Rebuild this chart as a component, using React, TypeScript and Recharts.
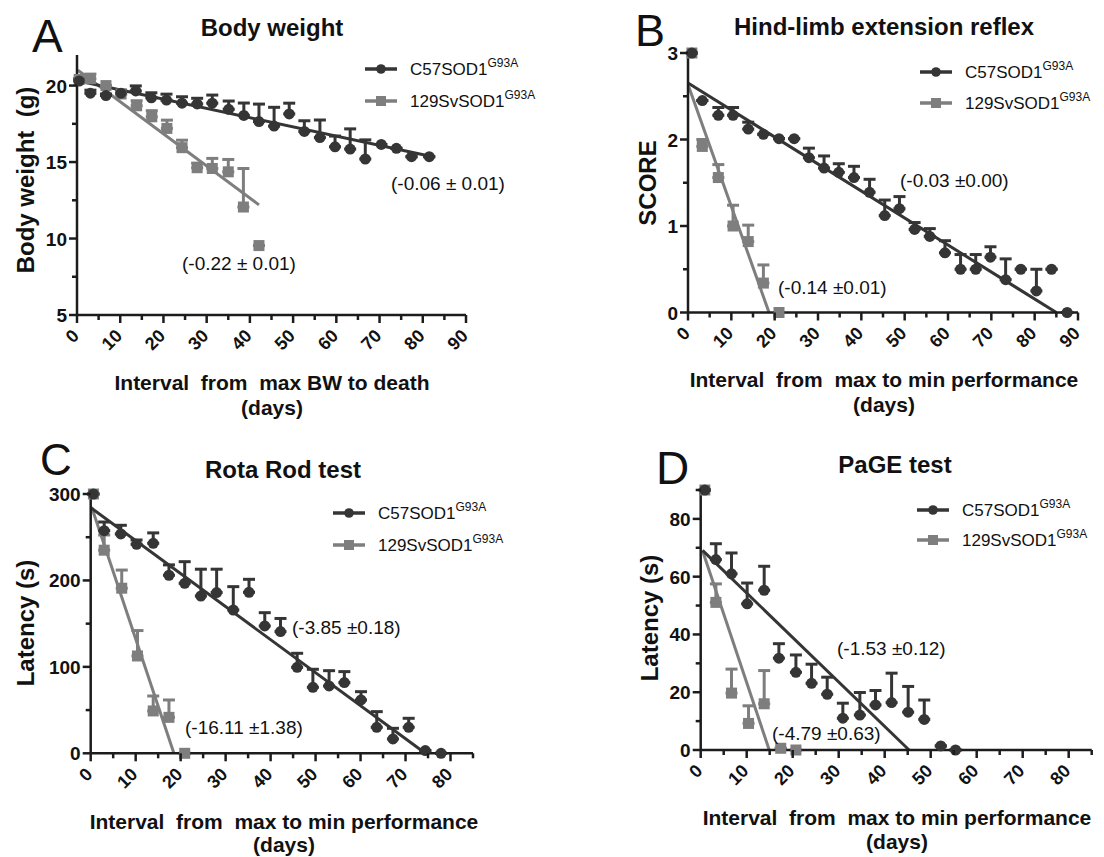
import React from 'react';
import { ComposedChart, Scatter, Line, XAxis, YAxis, ErrorBar } from 'recharts';

// ---------- Panel A : Body weight ----------
const bwDaysC57 = [0.5, 3.1, 6.7, 10.2, 13.6, 17.2, 20.7, 24.3, 27.8, 31.3, 35.1, 38.6, 42.1, 45.6, 49.1, 52.6, 56.2, 59.7, 63.2, 66.7, 70.4, 73.9, 77.4, 81.5];
const bwMeanC57 = [20.3, 19.5, 19.35, 19.5, 19.65, 19.2, 19.05, 18.85, 18.8, 18.85, 18.45, 18.05, 17.65, 17.35, 18.15, 17.0, 16.6, 16.0, 15.85, 15.2, 16.15, 15.9, 15.35, 15.35];
const bwErrC57 = [0.15, 0.2, 0.1, 0.2, 0.33, 0.33, 0.39, 0.42, 0.37, 0.53, 0.54, 0.81, 1.14, 1.23, 0.7, 0.7, 1.15, 0.7, 1.32, 1.25, 0, 0, 0, 0];
const bwDays129 = [0.5, 3.1, 6.7, 10.2, 13.8, 17.3, 20.8, 24.3, 27.8, 31.3, 35.0, 38.5, 42.1];
const bwMean129 = [20.4, 20.45, 20.0, 19.45, 18.68, 17.96, 17.2, 15.94, 14.63, 14.58, 14.36, 12.06, 9.54];
const bwErr129 = [0, 0.3, 0, 0, 0.33, 0.4, 0.54, 0.49, 0.3, 0.66, 0.81, 2.52, 0];
const bwFitXC57 = [0.4, 82.3];
const bwFitYC57 = [20.3, 15.35];
const bwFitX129 = [0.2, 42.1];
const bwFitY129 = [21.0, 12.2];
const bwXTicks = [0, 5, 10, 15, 20, 25, 30, 35, 40, 45, 50, 55, 60, 65, 70, 75, 80, 85, 90];
const bwYTicks = [5, 7.5, 10, 12.5, 15, 17.5, 20];
const bwYMajor = [5, 10, 15, 20];

// ---------- Panel B : Hind-limb extension reflex ----------
const hlDaysC57 = [0.9, 3.3, 7.0, 10.4, 13.9, 17.4, 21.0, 24.5, 27.9, 31.4, 34.8, 38.3, 41.9, 45.4, 48.8, 52.3, 55.8, 59.3, 62.9, 66.4, 69.8, 73.3, 76.8, 80.4, 83.9, 87.5];
const hlMeanC57 = [3.0, 2.45, 2.28, 2.28, 2.12, 2.06, 2.01, 2.01, 1.79, 1.67, 1.62, 1.56, 1.39, 1.12, 1.2, 0.96, 0.88, 0.69, 0.5, 0.5, 0.64, 0.38, 0.5, 0.25, 0.5, 0];
const hlErrC57 = [0, 0, 0.09, 0.09, 0.08, 0, 0, 0, 0.11, 0.14, 0.1, 0.13, 0.15, 0.18, 0.14, 0.08, 0.09, 0.14, 0.17, 0.17, 0.12, 0.24, 0, 0.25, 0, 0];
const hlDays129 = [0.9, 3.3, 7.0, 10.4, 13.9, 17.4, 21.0];
const hlMean129 = [3.0, 1.92, 1.56, 1.0, 0.82, 0.34, 0];
const hlErr129 = [0, 0.08, 0.15, 0.24, 0.19, 0.21, 0];
const hlFitXC57 = [0.1, 85];
const hlFitYC57 = [2.65, 0];
const hlFitX129 = [0.1, 18.7];
const hlFitY129 = [2.62, 0];
const hlXTicks = [0, 5, 10, 15, 20, 25, 30, 35, 40, 45, 50, 55, 60, 65, 70, 75, 80, 85, 90];
const hlYTicks = [0, 0.5, 1, 1.5, 2, 2.5, 3];
const hlYMajor = [0, 1, 2, 3];

// ---------- Panel C : Rota Rod test ----------
const rrDaysC57 = [0.6, 3.0, 6.7, 10.2, 13.9, 17.4, 20.9, 24.5, 28.0, 31.7, 35.2, 38.7, 42.2, 45.9, 49.4, 53.0, 56.4, 60.1, 63.6, 67.2, 70.7, 74.4, 77.9];
const rrMeanC57 = [300, 257.6, 253.8, 241.8, 243, 206, 196.7, 182, 186, 165.8, 186.3, 147.3, 140.8, 99.5, 76.4, 77.9, 81.8, 61.7, 30.1, 16.6, 30.1, 3.1, 0];
const rrErrC57 = [0, 10, 10, 5, 12, 12, 25, 31, 27, 27, 15, 15.4, 15.2, 16.2, 20.8, 17.7, 12.7, 9.6, 18.1, 12.3, 10.4, 0, 0];
const rrDays129 = [0.6, 3.0, 6.9, 10.4, 13.9, 17.4, 20.9];
const rrMean129 = [300, 235, 191, 112.6, 49, 41.6, 0];
const rrErr129 = [0, 17.6, 21, 29.4, 17.3, 20.1, 0];
const rrFitXC57 = [0.2, 74.4];
const rrFitYC57 = [283.5, 0];
const rrFitX129 = [0.2, 18.5];
const rrFitY129 = [285, 0];
const rrXTicks = [0, 5, 10, 15, 20, 25, 30, 35, 40, 45, 50, 55, 60, 65, 70, 75, 80, 85];
const rrYTicks = [0, 50, 100, 150, 200, 250, 300];
const rrYMajor = [0, 100, 200, 300];

// ---------- Panel D : PaGE test ----------
const pgDaysC57 = [0.9, 3.3, 6.7, 10.1, 13.8, 17.0, 20.7, 24.1, 27.5, 30.9, 34.6, 38.0, 41.5, 45.1, 48.6, 52.2, 55.4];
const pgMeanC57 = [90, 65.9, 61, 50.6, 55.3, 31.8, 26.9, 23.1, 19.3, 11, 12.1, 15.6, 16.4, 13.1, 10.6, 1.4, 0];
const pgErrC57 = [0, 5.5, 7.2, 7.2, 8.3, 5, 6, 6.6, 5.9, 5.2, 7.8, 5, 10.2, 8.9, 6.7, 0, 0];
const pgDays129 = [0.9, 3.3, 6.7, 10.4, 13.8, 17.4, 20.7];
const pgMean129 = [90, 51.1, 19.7, 9.2, 16, 0.6, 0];
const pgErr129 = [0, 6.4, 8.3, 6.1, 11.5, 0, 0];
const pgFitXC57 = [0.4, 45.3];
const pgFitYC57 = [69.1, 0];
const pgFitX129 = [0.4, 14.9];
const pgFitY129 = [69, 0];
const pgXTicks = [0, 5, 10, 15, 20, 25, 30, 35, 40, 45, 50, 55, 60, 65, 70, 75, 80, 85];
const pgYTicks = [0, 10, 20, 30, 40, 50, 60, 70, 80, 90];
const pgYMajor = [0, 20, 40, 60, 80];

// ---------- styling ----------
const DARK = '#353535';
const GREY = '#7e7e7e';
const AXIS = '#1c1c1c';
const TEXT = '#111111';
const FONT = '"Liberation Sans", Arial, Helvetica, sans-serif';

const toRows = (days: number[], mean: number[], err: number[]) =>
  days.map((x, i) => ({ x, y: mean[i], e: [0, err[i]] }));
const toFit = (xs: number[], ys: number[]) => xs.map((x, i) => ({ x, y: ys[i] }));

const CircleShape = (p: any) => <circle cx={p.cx} cy={p.cy} r={5.5} fill={DARK} />;
const SquareShape = (p: any) => <rect x={p.cx - 5.5} y={p.cy - 5.5} width={11} height={11} fill={GREY} />;

const makeYTick = (majors: number[]) => (props: any) => {
  const { x, y, payload } = props;
  const major = majors.includes(payload.value);
  return (
    <g>
      <line x1={x - (major ? 8 : 5)} x2={x} y1={y} y2={y} stroke={AXIS} strokeWidth={2.5} />
      {major && (
        <text x={x - 10} y={y + 7} textAnchor="end" fontFamily={FONT} fontWeight="bold" fontSize={19} fill={TEXT}>
          {payload.value}
        </text>
      )}
    </g>
  );
};

const XTick = (props: any) => {
  const { x, y, payload } = props;
  const major = payload.value % 10 === 0;
  const ax = x + 3;
  const ay = y + 22;
  return (
    <g>
      <line x1={x} x2={x} y1={y} y2={y + (major ? 8 : 5)} stroke={AXIS} strokeWidth={2.5} />
      {major && (
        <text x={ax} y={ay} textAnchor="end" transform={`rotate(-45 ${ax} ${ay})`} fontFamily={FONT} fontWeight="bold" fontSize={18} fill={TEXT}>
          {payload.value}
        </text>
      )}
    </g>
  );
};

type PanelProps = {
  ox: number; oy: number; w: number; h: number;
  plot: { left: number; right: number; top: number; bottom: number };
  xDomain: [number, number]; yDomain: [number, number];
  xTicks: number[]; yTicks: number[]; yMajor: number[];
  dark: any[]; grey: any[]; darkFit: any[]; greyFit: any[];
};

function Panel(p: PanelProps) {
  const YW = 50;
  const XH = 30;
  const margin = {
    top: p.plot.top - p.oy,
    left: p.plot.left - p.ox - YW,
    right: p.ox + p.w - p.plot.right,
    bottom: p.oy + p.h - p.plot.bottom - XH,
  };
  const axisLine = { stroke: AXIS, strokeWidth: 2.5 };
  return (
    <div style={{ position: 'absolute', left: p.ox, top: p.oy, width: p.w, height: p.h }}>
      <ComposedChart width={p.w} height={p.h} margin={margin}>
        <XAxis type="number" dataKey="x" domain={p.xDomain} ticks={p.xTicks} interval={0}
          tickSize={0} tickMargin={0} tickLine={false} axisLine={axisLine} tick={XTick} height={XH} />
        <YAxis type="number" dataKey="y" domain={p.yDomain} ticks={p.yTicks} interval={0}
          tickSize={0} tickMargin={0} tickLine={false} axisLine={axisLine} tick={makeYTick(p.yMajor)} width={YW} />
        <Line data={p.greyFit} dataKey="y" stroke={GREY} strokeWidth={3} dot={false} activeDot={false} isAnimationActive={false} />
        <Line data={p.darkFit} dataKey="y" stroke={DARK} strokeWidth={3} dot={false} activeDot={false} isAnimationActive={false} />
        <Scatter data={p.grey} dataKey="y" fill={GREY} shape={SquareShape} isAnimationActive={false}>
          <ErrorBar dataKey="e" direction="y" width={6} strokeWidth={3} stroke={GREY} isAnimationActive={false} />
        </Scatter>
        <Scatter data={p.dark} dataKey="y" fill={DARK} shape={CircleShape} isAnimationActive={false}>
          <ErrorBar dataKey="e" direction="y" width={6} strokeWidth={3} stroke={DARK} isAnimationActive={false} />
        </Scatter>
      </ComposedChart>
    </div>
  );
}

function LegendRow({ x, y, circle, color, name }: { x: number; y: number; circle: boolean; color: string; name: string }) {
  return (
    <g>
      <line x1={x} x2={x + 32} y1={y} y2={y} stroke={color} strokeWidth={3.5} />
      {circle ? <circle cx={x + 16} cy={y} r={4.8} fill={color} /> : <rect x={x + 11} y={y - 5} width={10} height={10} fill={color} />}
      <text x={x + 45} y={y + 6} fontFamily={FONT} fontSize={17} fill={TEXT}>
        {name}
        <tspan fontSize={12} dy={-8}>G93A</tspan>
      </text>
    </g>
  );
}

function Legend2({ x, y1, y2 }: { x: number; y1: number; y2: number }) {
  return (
    <g>
      <LegendRow x={x} y={y1} circle color={DARK} name="C57SOD1" />
      <LegendRow x={x} y={y2} circle={false} color={GREY} name="129SvSOD1" />
    </g>
  );
}

const T = (props: any) => <text fontFamily={FONT} fill={TEXT} {...props} />;

export default function App() {
  return (
    <div style={{ position: 'absolute', left: 0, top: 0, width: 1104, height: 857, background: '#fff', overflow: 'hidden' }}>
      <Panel ox={0} oy={0} w={552} h={428}
        plot={{ left: 77, right: 466, top: 55, bottom: 315 }}
        xDomain={[0, 90]} yDomain={[5, 22]} xTicks={bwXTicks} yTicks={bwYTicks} yMajor={bwYMajor}
        dark={toRows(bwDaysC57, bwMeanC57, bwErrC57)} grey={toRows(bwDays129, bwMean129, bwErr129)}
        darkFit={toFit(bwFitXC57, bwFitYC57)} greyFit={toFit(bwFitX129, bwFitY129)} />
      <Panel ox={552} oy={0} w={552} h={428}
        plot={{ left: 688, right: 1078, top: 53, bottom: 312.5 }}
        xDomain={[0, 90]} yDomain={[0, 3]} xTicks={hlXTicks} yTicks={hlYTicks} yMajor={hlYMajor}
        dark={toRows(hlDaysC57, hlMeanC57, hlErrC57)} grey={toRows(hlDays129, hlMean129, hlErr129)}
        darkFit={toFit(hlFitXC57, hlFitYC57)} greyFit={toFit(hlFitX129, hlFitY129)} />
      <Panel ox={0} oy={428} w={552} h={429}
        plot={{ left: 90.7, right: 473, top: 494, bottom: 753.3 }}
        xDomain={[0, 85]} yDomain={[0, 300]} xTicks={rrXTicks} yTicks={rrYTicks} yMajor={rrYMajor}
        dark={toRows(rrDaysC57, rrMeanC57, rrErrC57)} grey={toRows(rrDays129, rrMean129, rrErr129)}
        darkFit={toFit(rrFitXC57, rrFitYC57)} greyFit={toFit(rrFitX129, rrFitY129)} />
      <Panel ox={552} oy={428} w={552} h={429}
        plot={{ left: 700.7, right: 1091.7, top: 490, bottom: 750 }}
        xDomain={[0, 85]} yDomain={[0, 90]} xTicks={pgXTicks} yTicks={pgYTicks} yMajor={pgYMajor}
        dark={toRows(pgDaysC57, pgMeanC57, pgErrC57)} grey={toRows(pgDays129, pgMean129, pgErr129)}
        darkFit={toFit(pgFitXC57, pgFitYC57)} greyFit={toFit(pgFitX129, pgFitY129)} />

      <svg width={1104} height={857} style={{ position: 'absolute', left: 0, top: 0, pointerEvents: 'none' }}>
        {/* panel letters */}
        <T x={32} y={52} fontSize={46}>A</T>
        <T x={635} y={46} fontSize={45}>B</T>
        <T x={40} y={475} fontSize={44}>C</T>
        <T x={656} y={484} fontSize={46}>D</T>

        {/* titles */}
        <T x={272} y={36} fontSize={24} fontWeight="bold" textAnchor="middle">Body weight</T>
        <T x={884} y={35} fontSize={24} fontWeight="bold" textAnchor="middle">Hind-limb extension reflex</T>
        <T x={283} y={478} fontSize={24} fontWeight="bold" textAnchor="middle">Rota Rod test</T>
        <T x={895} y={473} fontSize={24} fontWeight="bold" textAnchor="middle">PaGE test</T>

        {/* y axis titles */}
        <T x={0} y={0} fontSize={24} fontWeight="bold" textAnchor="middle" transform="translate(34 180) rotate(-90)" style={{ whiteSpace: 'pre' }}>{'Body weight  (g)'}</T>
        <T x={0} y={0} fontSize={24} fontWeight="bold" textAnchor="middle" transform="translate(656 183) rotate(-90)">SCORE</T>
        <T x={0} y={0} fontSize={24} fontWeight="bold" textAnchor="middle" transform="translate(34 623) rotate(-90)">Latency (s)</T>
        <T x={0} y={0} fontSize={24} fontWeight="bold" textAnchor="middle" transform="translate(658 618) rotate(-90)">Latency (s)</T>

        {/* x axis titles */}
        <T x={272} y={390} fontSize={21} fontWeight="bold" textAnchor="middle" style={{ whiteSpace: 'pre' }}>{'Interval  from  max BW to death'}</T>
        <T x={272} y={415} fontSize={21} fontWeight="bold" textAnchor="middle">(days)</T>
        <T x={884} y={387} fontSize={21} fontWeight="bold" textAnchor="middle" style={{ whiteSpace: 'pre' }}>{'Interval  from  max to min performance'}</T>
        <T x={884} y={412} fontSize={21} fontWeight="bold" textAnchor="middle">(days)</T>
        <T x={284} y={829} fontSize={21} fontWeight="bold" textAnchor="middle" style={{ whiteSpace: 'pre' }}>{'Interval  from  max to min performance'}</T>
        <T x={284} y={852} fontSize={21} fontWeight="bold" textAnchor="middle">(days)</T>
        <T x={897} y={825} fontSize={21} fontWeight="bold" textAnchor="middle" style={{ whiteSpace: 'pre' }}>{'Interval  from  max to min performance'}</T>
        <T x={897} y={849} fontSize={21} fontWeight="bold" textAnchor="middle">(days)</T>

        {/* slope annotations */}
        <T x={391} y={190} fontSize={19}>(-0.06 ± 0.01)</T>
        <T x={182} y={270} fontSize={19}>(-0.22 ± 0.01)</T>
        <T x={900} y={187} fontSize={19}>(-0.03 ±0.00)</T>
        <T x={778} y={294} fontSize={19}>(-0.14 ±0.01)</T>
        <T x={292} y={634} fontSize={19}>(-3.85 ±0.18)</T>
        <T x={185} y={734} fontSize={19}>(-16.11 ±1.38)</T>
        <T x={837} y={655} fontSize={19}>(-1.53 ±0.12)</T>
        <T x={772} y={740} fontSize={19}>(-4.79 ±0.63)</T>

        {/* legends */}
        <Legend2 x={365} y1={69} y2={101} />
        <Legend2 x={920} y1={72} y2={103} />
        <Legend2 x={333} y1={513} y2={545} />
        <Legend2 x={917} y1={510} y2={540} />
      </svg>
    </div>
  );
}
